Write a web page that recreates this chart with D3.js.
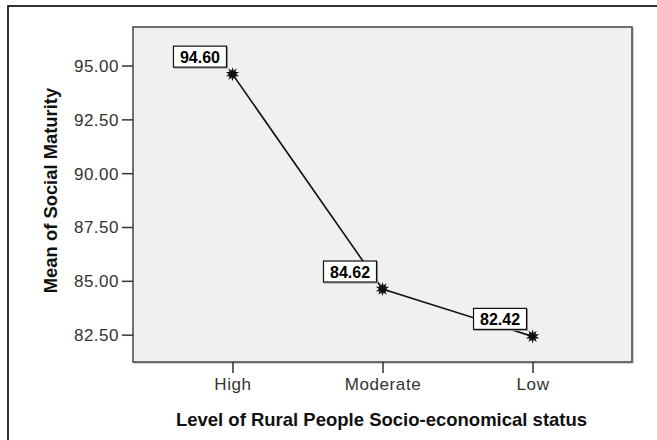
<!DOCTYPE html>
<html><head><meta charset="utf-8">
<script src="https://cdn.jsdelivr.net/npm/d3@7"></script>
<style>body{margin:0;background:#fff}svg{display:block}</style>
</head><body>
<script>
const categories = ["High", "Moderate", "Low"];
const means = [94.60, 84.62, 82.42];
const yTicks = [82.5, 85.0, 87.5, 90.0, 92.5, 95.0];
const xTitle = "Level of Rural People Socio-economical status";
const yTitle = "Mean of Social Maturity";

const W = 657, H = 440;
const plot = {l: 133, t: 27, r: 632, b: 362};
const svg = d3.select("body").append("svg").attr("width", W).attr("height", H);

// outer frame
svg.append("rect").attr("x", 8).attr("y", 6).attr("width", 800).attr("height", 600)
  .attr("fill", "#fff").attr("stroke", "#000").attr("stroke-width", 1.6);

const x = d3.scalePoint().domain(categories).range([plot.l, plot.r]).padding(0.663);
const y = d3.scaleLinear().domain([81.23, 96.79]).range([plot.b, plot.t]);

// plot background
svg.append("rect").attr("x", plot.l + 1).attr("y", plot.t + 1)
  .attr("width", plot.r - plot.l).attr("height", plot.b - plot.t)
  .attr("fill", "none").attr("stroke", "#aaa").attr("stroke-width", 1);
svg.append("rect").attr("x", plot.l).attr("y", plot.t)
  .attr("width", plot.r - plot.l).attr("height", plot.b - plot.t)
  .attr("fill", "#f0f0f0").attr("stroke", "#444").attr("stroke-width", 1.5);

const tickFont = "'Liberation Sans', Arial, sans-serif";

// y axis
const yAxis = d3.axisLeft(y).tickValues(yTicks).tickSize(11).tickPadding(3).tickFormat(d3.format(".2f"));
const ga = svg.append("g").attr("transform", `translate(${plot.l},0)`).call(yAxis);
ga.select(".domain").remove();
ga.selectAll("line").attr("stroke", "#333").attr("stroke-width", 1.5);
ga.selectAll("text").attr("fill", "#333").style("font-family", tickFont)
  .style("font-size", "17px").style("letter-spacing", "0.5px").attr("dy", "0.35em");

// x axis
const xAxis = d3.axisBottom(x).tickSize(11).tickPadding(5);
const gx = svg.append("g").attr("transform", `translate(0,${plot.b})`).call(xAxis);
gx.select(".domain").remove();
gx.selectAll("line").attr("stroke", "#333").attr("stroke-width", 1.5);
gx.selectAll("text").attr("fill", "#333").style("font-family", tickFont)
  .style("font-size", "17px").style("letter-spacing", "0.6px");

// titles
svg.append("text").attr("x", (plot.l + plot.r) / 2 - 1).attr("y", 426)
  .attr("text-anchor", "middle").style("font-family", tickFont).style("font-weight", "bold")
  .style("font-size", "18.5px").attr("fill", "#111").text(xTitle);
svg.append("text").attr("transform", `translate(57,${(plot.t + plot.b) / 2 - 4}) rotate(-90)`)
  .attr("text-anchor", "middle").style("font-family", tickFont).style("font-weight", "bold")
  .style("font-size", "18.4px").attr("fill", "#111").text(yTitle);

// line
const data = categories.map((c, i) => ({c, v: means[i]}));
svg.append("path").datum(data)
  .attr("d", d3.line().x(d => x(d.c)).y(d => y(d.v)))
  .attr("fill", "none").attr("stroke", "#111").attr("stroke-width", 1.6);

// markers
svg.selectAll(".mk").data(data).enter().append("path")
  .attr("transform", d => `translate(${x(d.c)},${y(d.v)})`)
  .attr("d", d3.symbol(d3.symbolStar, 55)).attr("fill", "#111");
svg.selectAll(".mk2").data(data).enter().append("path")
  .attr("transform", d => `translate(${x(d.c)},${y(d.v)}) rotate(36)`)
  .attr("d", d3.symbol(d3.symbolStar, 55)).attr("fill", "#111");

// labels
const lab = svg.selectAll(".lab").data(data).enter().append("g")
  .attr("transform", d => `translate(${x(d.c) - 6},${y(d.v) - 7})`);
lab.append("rect").attr("x", -52).attr("y", -20).attr("width", 53).attr("height", 21)
  .attr("fill", "none").attr("stroke", "#999").attr("stroke-width", 1);
lab.append("rect").attr("x", -53).attr("y", -21).attr("width", 53).attr("height", 21)
  .attr("fill", "#fff").attr("stroke", "#111").attr("stroke-width", 1.2);
lab.append("text").attr("x", -26.5).attr("y", -4.5).attr("text-anchor", "middle")
  .style("font-family", tickFont).style("font-weight", "bold").style("font-size", "16px")
  .attr("fill", "#000").text(d => d3.format(".2f")(d.v));
</script>
</body></html>
